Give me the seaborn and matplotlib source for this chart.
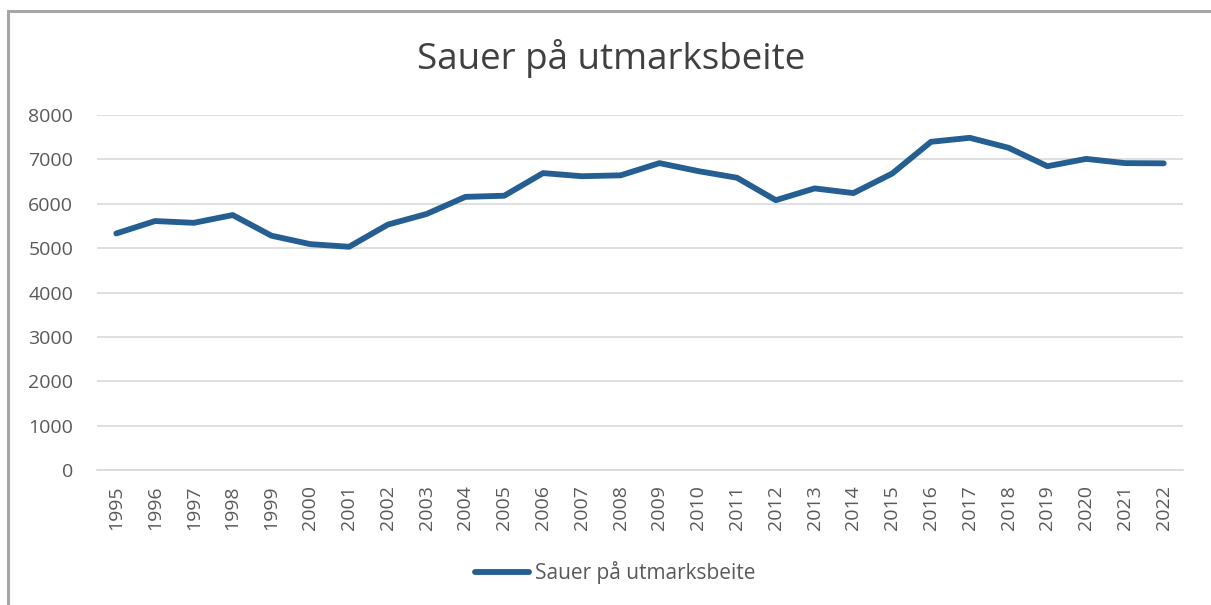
import matplotlib
matplotlib.use("Agg")
import matplotlib.pyplot as plt
import seaborn as sns
import pandas as pd
from matplotlib.patches import Rectangle

years = list(range(1995, 2023))
sauer = [5330, 5610, 5570, 5745, 5280, 5090, 5030, 5530, 5770, 6155,
         6180, 6690, 6620, 6640, 6915, 6735, 6585, 6080, 6345, 6240,
         6680, 7395, 7485, 7260, 6845, 7010, 6915, 6910]
label = "Sauer på utmarksbeite"

df = pd.DataFrame({"year": years, "value": sauer})

sns.set_style("white")
plt.rcParams["font.family"] = ["Open Sans", "DejaVu Sans"]

fig = plt.figure(figsize=(12.11, 6.05), dpi=100)
ax = fig.add_axes([0.080, 0.223, 0.897, 0.587])

sns.lineplot(data=df, x="year", y="value", ax=ax, color="#255E91",
             linewidth=4.2, label=label, solid_capstyle="round")

ax.set_xlim(1994.5, 2022.5)
ax.set_ylim(0, 8000)
ax.set_xticks(years)
ax.set_xticklabels([str(y) for y in years], rotation=90)
ax.set_yticks(range(0, 8001, 1000))
ax.yaxis.grid(True, color="#d9d9d9", linewidth=1.2)
ax.set_axisbelow(True)
for s in ["top", "right", "left"]:
    ax.spines[s].set_visible(False)
ax.spines["bottom"].set_color("#d9d9d9")
ax.spines["bottom"].set_linewidth(1.2)
ax.tick_params(axis="both", labelsize=14, colors="#595959", length=0)
ax.tick_params(axis="y", pad=17)
ax.tick_params(axis="x", pad=11)
ax.set_xlabel("")
ax.set_ylabel("")

fig.text(0.505, 0.903, label, ha="center", va="center", fontsize=26.5, color="#404040")

ax.get_legend().remove()
fig.legend(loc="center", bbox_to_anchor=(0.508, 0.053), frameon=False,
           fontsize=15, labelcolor="#595959", handlelength=2.6, handletextpad=0.25)

# chart area border (left and top only visible)
fig.patches.append(Rectangle((8 / 1211, -0.1), 1.2, 1.1 - 11 / 605,
                             transform=fig.transFigure, fill=False,
                             edgecolor="#a6a6a6", linewidth=2.2))

fig.savefig("out.png", dpi=100)
